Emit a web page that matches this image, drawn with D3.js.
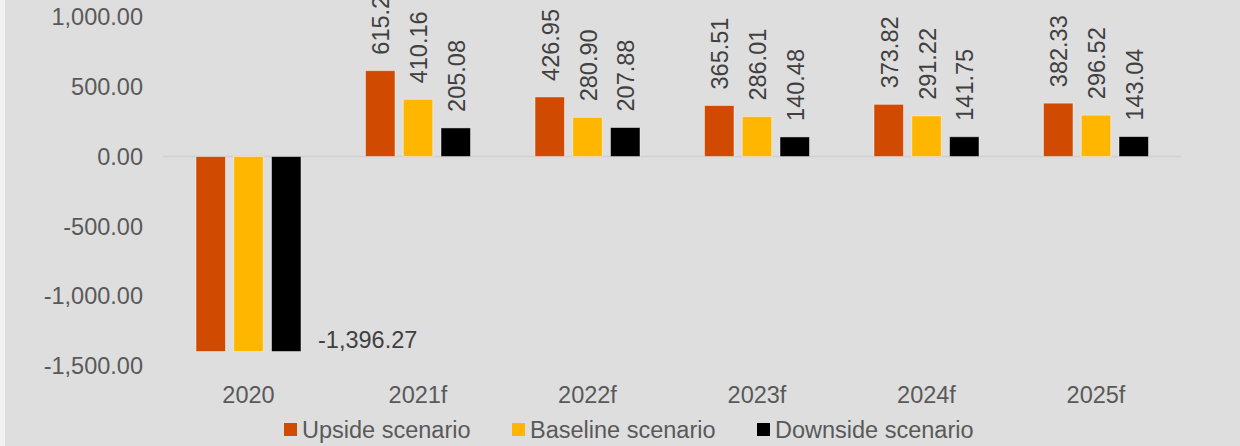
<!DOCTYPE html>
<html><head><meta charset="utf-8">
<script src="https://cdn.jsdelivr.net/npm/d3@7"></script>
<style>
html,body{margin:0;padding:0;background:#f2f2f2;}
svg{display:block;}
text{font-family:"Liberation Sans",Arial,sans-serif;}
</style></head>
<body>
<svg id="chart" width="1240" height="446"></svg>
<script>
const categories = ["2020","2021f","2022f","2023f","2024f","2025f"];
const seriesNames = ["Upside scenario","Baseline scenario","Downside scenario"];
const upside   = [-1396.27, 615.2, 426.95, 365.51, 373.82, 382.33];
const baseline = [-1396.27, 410.16, 280.90, 286.01, 291.22, 296.52];
const downside = [-1396.27, 205.08, 207.88, 140.48, 141.75, 143.04];
const upsideLabels   = [null, "615.2", "426.95", "365.51", "373.82", "382.33"];
const baselineLabels = [null, "410.16", "280.90", "286.01", "291.22", "296.52"];
const downsideLabels = ["-1,396.27", "205.08", "207.88", "140.48", "141.75", "143.04"];
const yTicks = [1000, 500, 0, -500, -1000, -1500];
const colors = ["#D04A02","#FFB600","#000000"];

const values = [upside, baseline, downside];
const labels = [upsideLabels, baselineLabels, downsideLabels];

const svg = d3.select("#chart");
svg.append("rect").attr("x",5).attr("y",0).attr("width",1235).attr("height",446).attr("fill","#dedede");

const y = d3.scaleLinear().domain([-1500, 1000]).range([366, 16.9]);
const x0 = d3.scaleBand().domain(categories).range([163.75, 1180.75]).padding(0);
const x1 = d3.scaleBand().domain(seriesNames).range([0, x0.bandwidth()]).paddingInner(0.2185).paddingOuter(0.854);

// y axis labels
const fmt = d3.format(",.2f");
svg.append("g").selectAll("text").data(yTicks).join("text")
  .attr("x", 143).attr("y", d => y(d)).attr("dy","0.35em")
  .attr("text-anchor","end").attr("font-size", 23.5).attr("fill","#595959")
  .text(d => fmt(d).replace("−","-"));

// zero line
svg.append("line").attr("x1", 163).attr("x2", 1181).attr("y1", y(0)).attr("y2", y(0))
  .attr("stroke","#d0d0d0").attr("stroke-width",1.5);

// bars
seriesNames.forEach((s, si) => {
  const g = svg.append("g");
  g.selectAll("rect").data(categories).join("rect")
    .attr("x", c => x0(c) + x1(s))
    .attr("width", x1.bandwidth())
    .attr("y", (c,i) => Math.min(y(0), y(values[si][i])))
    .attr("height", (c,i) => Math.abs(y(values[si][i]) - y(0)))
    .attr("fill", colors[si])
    .attr("stroke", "rgba(255,255,255,0.45)").attr("stroke-width", 1);
  // labels
  categories.forEach((c, i) => {
    const lab = labels[si][i];
    if (!lab) return;
    const v = values[si][i];
    const cx = x0(c) + x1(s) + x1.bandwidth()/2;
    if (v >= 0) {
      g.append("text")
        .attr("transform", `translate(${cx+1},${y(v)-16}) rotate(-90)`)
        .attr("dy","0.35em").attr("text-anchor","start")
        .attr("font-size", 23.5).attr("fill","#404040").text(lab);
    } else {
      g.append("text")
        .attr("x", x0(c) + x1(s) + x1.bandwidth() + 17).attr("y", y(v) - 12)
        .attr("dy","0.35em").attr("text-anchor","start")
        .attr("font-size", 23.5).attr("fill","#404040").text(lab);
    }
  });
});

// x axis labels
svg.append("g").selectAll("text").data(categories).join("text")
  .attr("x", c => x0(c) + x0.bandwidth()/2).attr("y", 395).attr("dy","0.35em")
  .attr("text-anchor","middle").attr("font-size",23.5).attr("fill","#595959").text(c => c);

// legend
const legendX = [284, 512, 757];
const lg = svg.append("g");
seriesNames.forEach((s, i) => {
  lg.append("rect").attr("x", legendX[i]).attr("y", 423).attr("width", 13).attr("height", 13).attr("fill", colors[i]);
  lg.append("text").attr("x", legendX[i] + 18).attr("y", 430).attr("dy","0.35em")
    .attr("font-size", 23.5).attr("fill","#595959").text(s);
});
</script>
</body></html>
